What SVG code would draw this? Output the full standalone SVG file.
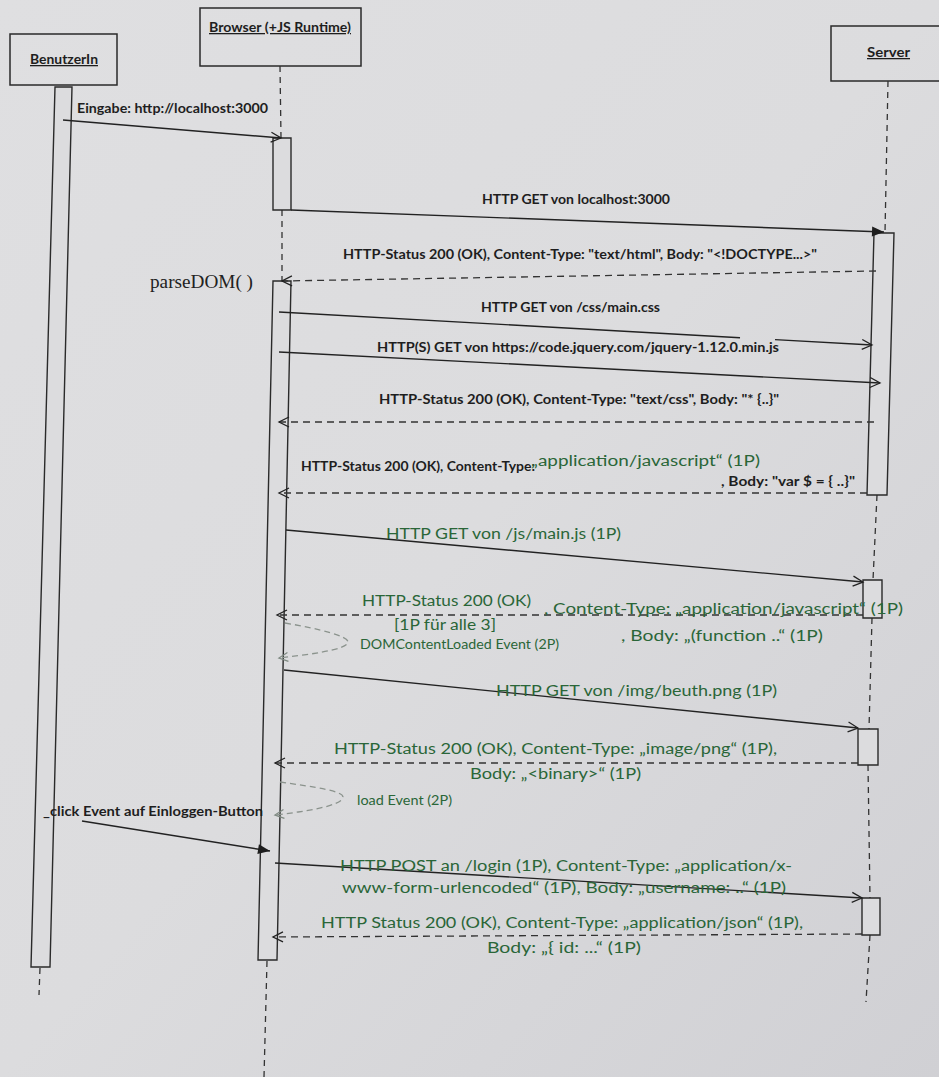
<svg xmlns="http://www.w3.org/2000/svg" width="939" height="1077" viewBox="0 0 939 1077">
<defs>
<linearGradient id="bg" x1="0" y1="0" x2="1" y2="1">
<stop offset="0" stop-color="#dfdfe1"/>
<stop offset="0.5" stop-color="#dcdcde"/>
<stop offset="1" stop-color="#d0d0d4"/>
</linearGradient>
<marker id="open" markerUnits="userSpaceOnUse" markerWidth="14" markerHeight="12" refX="11" refY="6" orient="auto" overflow="visible">
<path d="M1,1 L11,6 L1,11" fill="none" stroke="#222" stroke-width="1.3"/>
</marker>
<marker id="openG" markerUnits="userSpaceOnUse" markerWidth="14" markerHeight="12" refX="10" refY="5" orient="auto" overflow="visible">
<path d="M1,0.5 L10,5 L1,9.5" fill="none" stroke="#7f8a82" stroke-width="1.3"/>
</marker>
<marker id="filled" markerUnits="userSpaceOnUse" markerWidth="14" markerHeight="12" refX="12" refY="5" orient="auto" overflow="visible">
<path d="M0,0 L12,5 L0,10 Z" fill="#1e1e1e"/>
</marker>
<style>
.box{fill:none;stroke:#2a2a2a;stroke-width:1.5}
.bar{fill:#dcdcde;stroke:#2a2a2a;stroke-width:1.4}
.life{stroke:#333;stroke-width:1.3;stroke-dasharray:6 5;fill:none}
.msg{stroke:#222;stroke-width:1.4;fill:none}
.ret{stroke:#333;stroke-width:1.3;stroke-dasharray:7 5;fill:none}
.self{stroke:#8b938d;stroke-width:1.3;stroke-dasharray:6 4;fill:none}
.t{font-family:Lato,"Liberation Sans",sans-serif;font-weight:700;font-size:12.8px;fill:#1e1e1e}
.g{font-family:Lato,"Liberation Sans",sans-serif;font-size:15.5px;fill:#2a6638}
.gs{font-size:13px}
.lbl{font-family:Lato,"Liberation Sans",sans-serif;font-weight:700;font-size:12.8px;fill:#1e1e1e;text-decoration:underline}
.ser{font-family:"Liberation Serif",serif;font-size:18px;fill:#222}
</style>
</defs>
<rect x="0" y="0" width="939" height="1077" fill="url(#bg)"/>

<g id="benutzerin">
<rect class="box" x="10" y="34" width="107" height="51"/>
<text class="lbl" x="30" y="64" textLength="68" lengthAdjust="spacingAndGlyphs">BenutzerIn</text>
<path class="life" d="M40,968 L39,995"/>
<polygon class="bar" points="55,87 72,87 50,967 31,967"/>
</g>

<g id="browser">
<rect class="box" x="200" y="8" width="161" height="58"/>
<text class="lbl" x="209" y="32" textLength="142" lengthAdjust="spacingAndGlyphs">Browser (+JS Runtime)</text>
<path class="life" d="M280,66 L281,138 M282,210 L282,281 M267,961 L264,1077"/>
<polygon class="bar" points="273,138 291,138 291,210 273,210"/>
<polygon class="bar" points="273,281 291,281 277,960 258,960"/>
<text class="ser" x="150" y="288" textLength="103" lengthAdjust="spacingAndGlyphs">parseDOM( )</text>
</g>

<g id="server">
<rect class="box" x="831" y="26" width="120" height="55"/>
<text class="lbl" x="867" y="57" textLength="43" lengthAdjust="spacingAndGlyphs">Server</text>
<path class="life" d="M888,81 L885,233 M877,495 L873,580 M872,618 L869,729 M868,765 L870,898 M870,935 L866,1002"/>
<polygon class="bar" points="874,233 894,233 887,495 867,495"/>
<polygon class="bar" points="863,580 882,580 882,618 863,618"/>
<polygon class="bar" points="858,729 878,729 878,765 858,765"/>
<polygon class="bar" points="862,898 880,898 880,935 862,935"/>
</g>

<g id="connectors">
<path class="msg" d="M63,120 L281,138" marker-end="url(#open)"/>
<path class="msg" d="M291,210 L884,232" marker-end="url(#filled)"/>
<path class="ret" d="M876,271 L282,281" marker-end="url(#open)"/>
<path class="msg" d="M279,312 L740,337.7"/>
<path class="msg" d="M775,339.6 L872,345" marker-end="url(#open)"/>
<path class="msg" d="M279,352 L880,383" marker-end="url(#open)"/>
<path class="ret" d="M874,422 L279,422" marker-end="url(#open)"/>
<path class="ret" d="M867,493 L279,493" marker-end="url(#open)"/>
<path class="msg" d="M286,530 L863,582" marker-end="url(#open)"/>
<path class="ret" d="M863,615 L277,615" marker-end="url(#open)"/>
<path class="self" d="M285,623 C320,629 348,636 348,642 C348,650 305,655 279,658" marker-end="url(#openG)"/>
<path class="msg" d="M284,670 L858,728" marker-end="url(#open)"/>
<path class="ret" d="M858,763 L275,763" marker-end="url(#open)"/>
<path class="self" d="M280,782 C315,787 343,791 343,797 C343,806 302,812 275,815" marker-end="url(#openG)"/>
<path class="msg" d="M82,821 L270,851" marker-end="url(#filled)"/>
<path class="msg" d="M275,863 L862,898" marker-end="url(#open)"/>
<path class="ret" d="M862,934 L273,937" marker-end="url(#open)"/>
</g>

<g id="labels">
<text class="t" x="77" y="113" textLength="191" lengthAdjust="spacingAndGlyphs">Eingabe: http://localhost:3000</text>
<text class="t" x="482" y="204" textLength="188" lengthAdjust="spacingAndGlyphs">HTTP GET von localhost:3000</text>
<text class="t" x="343" y="259" textLength="474" lengthAdjust="spacingAndGlyphs">HTTP-Status 200 (OK), Content-Type: "text/html", Body: "&lt;!DOCTYPE...&gt;"</text>
<text class="t" x="481" y="312" textLength="179" lengthAdjust="spacingAndGlyphs">HTTP GET von /css/main.css</text>
<text class="t" x="377" y="352" textLength="402" lengthAdjust="spacingAndGlyphs">HTTP(S) GET von https://code.jquery.com/jquery-1.12.0.min.js</text>
<text class="t" x="379" y="404" textLength="400" lengthAdjust="spacingAndGlyphs">HTTP-Status 200 (OK), Content-Type: "text/css", Body: "* {..}"</text>
<text class="t" x="301" y="471" textLength="234" lengthAdjust="spacingAndGlyphs">HTTP-Status 200 (OK), Content-Type:</text>
<text class="g" x="531" y="466" textLength="229" lengthAdjust="spacingAndGlyphs">„application/javascript“ (1P)</text>
<text class="t" x="721" y="486" textLength="134" lengthAdjust="spacingAndGlyphs">, Body: "var $ = { ..}"</text>
<text class="g" x="386" y="539" textLength="235" lengthAdjust="spacingAndGlyphs">HTTP GET von /js/main.js (1P)</text>
<text class="g" x="362" y="606" textLength="169" lengthAdjust="spacingAndGlyphs">HTTP-Status 200 (OK)</text>
<text class="g" x="544" y="614" textLength="359" lengthAdjust="spacingAndGlyphs">, Content-Type: „application/javascript“ (1P)</text>
<text class="g" x="394" y="630" textLength="102" lengthAdjust="spacingAndGlyphs">[1P für alle 3]</text>
<text class="g" x="621" y="641" textLength="202" lengthAdjust="spacingAndGlyphs">, Body: „(function ..“ (1P)</text>
<text class="g gs" x="360" y="649" textLength="199" lengthAdjust="spacingAndGlyphs">DOMContentLoaded Event (2P)</text>
<text class="g" x="496" y="696" textLength="281" lengthAdjust="spacingAndGlyphs">HTTP GET von /img/beuth.png (1P)</text>
<text class="g" x="334" y="754" textLength="443" lengthAdjust="spacingAndGlyphs">HTTP-Status 200 (OK), Content-Type: „image/png“ (1P),</text>
<text class="g" x="470" y="779" textLength="171" lengthAdjust="spacingAndGlyphs">Body: „&lt;binary&gt;“ (1P)</text>
<text class="g gs" x="357" y="805" textLength="95" lengthAdjust="spacingAndGlyphs">load Event (2P)</text>
<text class="t" x="43" y="816" textLength="220" lengthAdjust="spacingAndGlyphs">_click Event auf Einloggen-Button</text>
<text class="g" x="340" y="871" textLength="452" lengthAdjust="spacingAndGlyphs">HTTP POST an /login (1P), Content-Type: „application/x-</text>
<text class="g" x="342" y="893" textLength="444" lengthAdjust="spacingAndGlyphs">www-form-urlencoded“ (1P), Body: „username: ..“ (1P)</text>
<text class="g" x="321" y="928" textLength="482" lengthAdjust="spacingAndGlyphs">HTTP Status 200 (OK), Content-Type: „application/json“ (1P),</text>
<text class="g" x="487" y="953" textLength="154" lengthAdjust="spacingAndGlyphs">Body: „{ id: ...“ (1P)</text>
</g>
</svg>
